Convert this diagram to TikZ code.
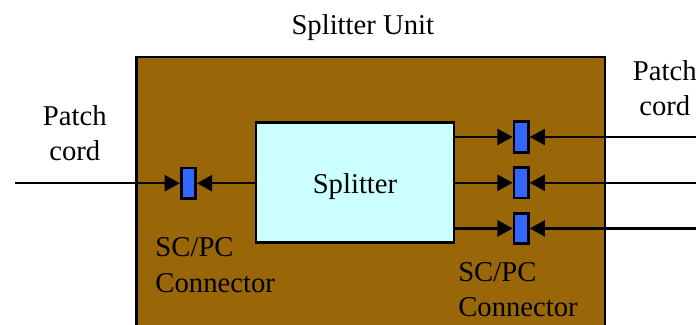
\documentclass[tikz,border=0pt]{standalone}
\usepackage{fontspec}
\setmainfont{Liberation Serif}
\usetikzlibrary{calc,arrows.meta}
\definecolor{unitbrown}{RGB}{153,102,8}
\definecolor{splitcyan}{RGB}{204,255,255}
\definecolor{connblue}{RGB}{51,102,255}
\tikzset{
  conn/.style={draw=black,line width=1.9pt,fill=connblue,inner sep=0pt,minimum width=0.36cm,minimum height=0.76cm},
  cord/.style={line width=1.8pt,-{Triangle[length=0.38cm,width=0.4cm]}},
  lbl/.style={font=\fontsize{20.4}{20.4}\selectfont,inner sep=0pt,align=left},
}
\begin{document}
\begin{tikzpicture}
        \useasboundingbox (0,0) rectangle (17.4,8.1);
        \clip (0,0) rectangle (17.4,8.1);
        \node[draw=black,line width=2pt,fill=unitbrown,minimum width=11.72cm,minimum height=8cm,inner sep=0pt] (unit) at (9.265,2.675) {};
        \node[draw=black,line width=2pt,fill=splitcyan,minimum width=4.95cm,minimum height=3.02cm,inner sep=0pt,lbl] (splitter) at (8.875,3.5375) {\raisebox{-0.28cm}[0pt][0pt]{Splitter}};
        \node[conn] (connL) at (4.71,3.52) {};
        \coordinate (cordL) at (0.375,3.52);
        \draw[cord] (cordL) -- (connL.west);
        \draw[cord] (splitter.west |- connL) -- (connL.east);
        \foreach \n/\y in {a/4.675,b/3.53,c/2.39}
        {
            \node[conn] (conn\n) at (13.03,\y) {};
            \coordinate (cord\n) at (17.4,\y);
            \draw[cord] (cord\n) -- (conn\n.east);
            \draw[cord] (splitter.east |- conn\n) -- (conn\n.west);
        }
        \node[lbl] (title) at (9.07,7.42) {Splitter Unit};
        \node[lbl,align=center] (patchL) at (1.87,4.77) {Patch\\[0.17cm]cord};
        \node[lbl,align=center] (patchR) at (16.62,5.9) {Patch\\[0.17cm]cord};
        \node[lbl,anchor=north west] (labelL) at (3.88,2.16) {SC/PC\\[0.17cm]Connector};
        \node[lbl,anchor=north west] (labelR) at (11.45,1.55) {SC/PC\\[0.17cm]Connector};
    \end{tikzpicture}
\end{document}
